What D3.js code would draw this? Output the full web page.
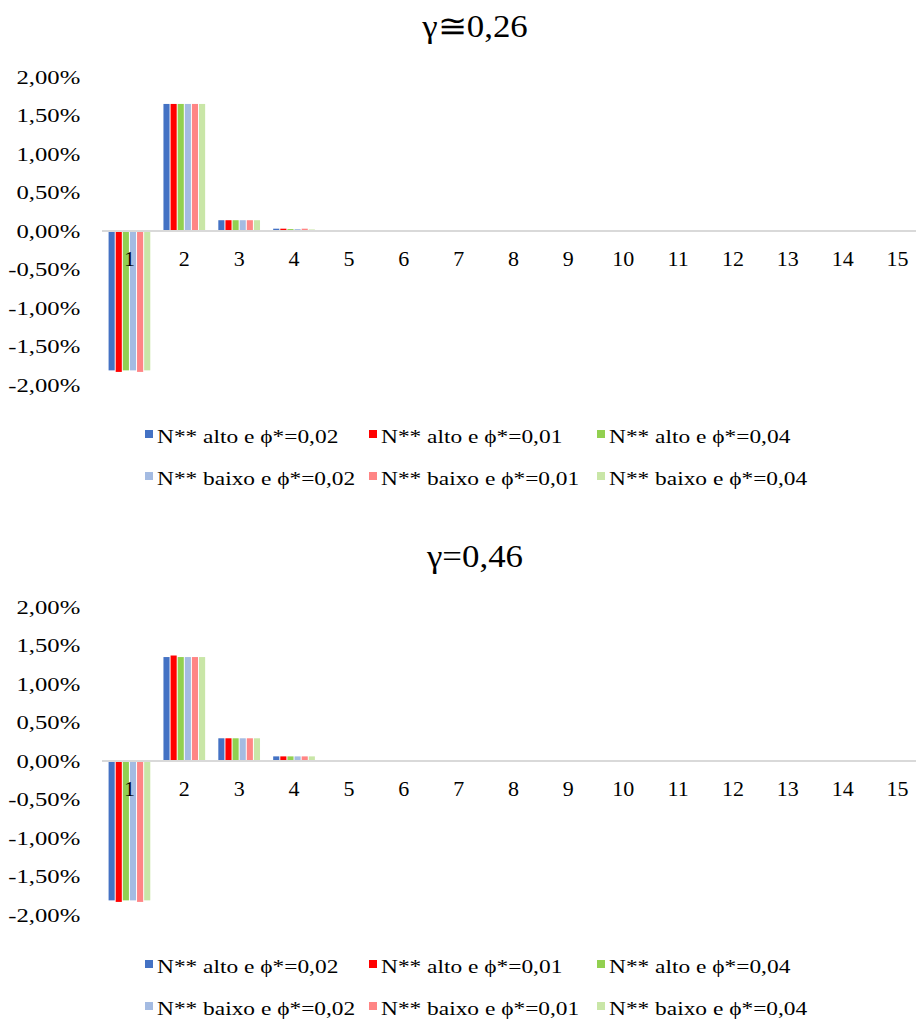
<!DOCTYPE html>
<html>
<head>
<meta charset="utf-8">
<script src="https://cdn.jsdelivr.net/npm/d3@7"></script>
<style>
  body { margin: 0; background: #fff; }
  text { font-family: "Liberation Serif", "Times New Roman", serif; fill: #000; }
</style>
</head>
<body>
<div id="chart"></div>
<script>
// categories (periods) and series
const categories = ["1","2","3","4","5","6","7","8","9","10","11","12","13","14","15"];
const seriesNames = [
    "N** alto e \u03D5*=0,02", "N** alto e \u03D5*=0,01", "N** alto e \u03D5*=0,04",
    "N** baixo e \u03D5*=0,02", "N** baixo e \u03D5*=0,01", "N** baixo e \u03D5*=0,04"
];
const seriesColors = ["#4472c4", "#ff0000", "#92d050", "#a4bbe2", "#ff8585", "#c9e6a7"];
const yTicks = [-2, -1.5, -1, -0.5, 0, 0.5, 1, 1.5, 2];

// values in %, one row per series (gamma ~ 0.26)
const topValues = [
    [-1.81, 1.65, 0.14, 0.03, 0, 0, 0, 0, 0, 0, 0, 0, 0, 0, 0],
    [-1.83, 1.65, 0.14, 0.03, 0, 0, 0, 0, 0, 0, 0, 0, 0, 0, 0],
    [-1.81, 1.65, 0.14, 0.025, 0, 0, 0, 0, 0, 0, 0, 0, 0, 0, 0],
    [-1.81, 1.65, 0.14, 0.025, 0, 0, 0, 0, 0, 0, 0, 0, 0, 0, 0],
    [-1.83, 1.65, 0.14, 0.03, 0, 0, 0, 0, 0, 0, 0, 0, 0, 0, 0],
    [-1.81, 1.65, 0.14, 0.02, 0, 0, 0, 0, 0, 0, 0, 0, 0, 0, 0]
];
// gamma = 0.46
const bottomValues = [
    [-1.81, 1.35, 0.295, 0.06, 0, 0, 0, 0, 0, 0, 0, 0, 0, 0, 0],
    [-1.83, 1.37, 0.295, 0.06, 0, 0, 0, 0, 0, 0, 0, 0, 0, 0, 0],
    [-1.81, 1.35, 0.295, 0.06, 0, 0, 0, 0, 0, 0, 0, 0, 0, 0, 0],
    [-1.81, 1.35, 0.295, 0.06, 0, 0, 0, 0, 0, 0, 0, 0, 0, 0, 0],
    [-1.83, 1.35, 0.295, 0.06, 0, 0, 0, 0, 0, 0, 0, 0, 0, 0, 0],
    [-1.81, 1.35, 0.295, 0.06, 0, 0, 0, 0, 0, 0, 0, 0, 0, 0, 0]
];

const pctFormat = d => d.toFixed(2).replace(".", ",") + "%";

class GroupedBars {

    constructor(svg, offsetY, title, values){
        this.svg = svg
        this.offsetY = offsetY
        this.title = title
        this.values = values

        this.initVis()
    }

    initVis(){
        let vis = this

        vis.g = vis.svg.append("g")
            .attr("transform", `translate(0,${vis.offsetY})`);

        // scales
        vis.xScale = d3.scaleBand()
            .domain(categories)
            .range([102, 925])
            .paddingInner(0.24)
            .paddingOuter(0.12);
        vis.xInner = d3.scaleBand()
            .domain(d3.range(seriesNames.length))
            .range([0, vis.xScale.bandwidth()])
            .paddingInner(0.14);
        vis.yScale = d3.scaleLinear()
            .domain([-2, 2])
            .range([385, 77]);

        // title
        vis.g.append("text")
            .attr("transform", "translate(475,37) scale(1.09,1)")
            .attr("text-anchor", "middle")
            .attr("font-size", 32)
            .text(vis.title);

        // y axis
        let yAxis = vis.g.append("g")
            .attr("transform", "translate(88,0)")
            .call(d3.axisLeft(vis.yScale).tickValues(yTicks).tickSize(0).tickPadding(6).tickFormat(pctFormat));
        yAxis.select(".domain").remove();
        yAxis.attr("font-family", null);
        yAxis.selectAll("text")
            .attr("font-size", 19)
            .attr("transform", "scale(1.3,1)");

        // bars
        vis.updateVis()
    }

    updateVis(){
        let vis = this

        let series = vis.g.selectAll(".series")
            .data(vis.values)
            .enter().append("g")
            .attr("class", "series")
            .attr("fill", (d, i) => seriesColors[i])
            .attr("transform", (d, i) => `translate(${vis.xInner(i)},0)`);

        series.selectAll("rect")
            .data(d => d.map((v, j) => ({cat: categories[j], v: v})))
            .enter().append("rect")
            .attr("x", d => vis.xScale(d.cat))
            .attr("width", vis.xInner.bandwidth())
            .attr("y", d => vis.yScale(Math.max(0, d.v)))
            .attr("height", d => Math.abs(vis.yScale(d.v) - vis.yScale(0)));

        // zero axis line
        vis.g.append("line")
            .attr("x1", 102).attr("x2", 916)
            .attr("y1", vis.yScale(0)).attr("y2", vis.yScale(0))
            .attr("stroke", "#d9d9d9")
            .attr("stroke-width", 2);

        // category labels
        let xAxis = vis.g.append("g")
            .attr("transform", `translate(0,${vis.yScale(0)})`)
            .call(d3.axisBottom(vis.xScale).tickSize(0).tickPadding(19));
        xAxis.select(".domain").remove();
        xAxis.attr("font-family", null);
        xAxis.selectAll("text").attr("font-size", 22);

        // legend
        let legendX = [145, 369, 597];
        let legendY = [430, 472];
        seriesNames.forEach((name, i) => {
            let lx = legendX[i % 3], ly = legendY[Math.floor(i / 3)];
            vis.g.append("rect")
                .attr("x", lx).attr("y", ly)
                .attr("width", 8).attr("height", 8)
                .attr("fill", seriesColors[i]);
            vis.g.append("text")
                .attr("transform", `translate(${lx + 12},${ly + 13}) scale(1.3,1)`)
                .attr("font-size", 18)
                .text(name);
        });
    }
}

const svg = d3.select("#chart").append("svg")
    .attr("width", 916)
    .attr("height", 1023);

new GroupedBars(svg, 0, "\u03B3\u22450,26", topValues);
new GroupedBars(svg, 530, "\u03B3=0,46", bottomValues);
</script>
</body>
</html>
